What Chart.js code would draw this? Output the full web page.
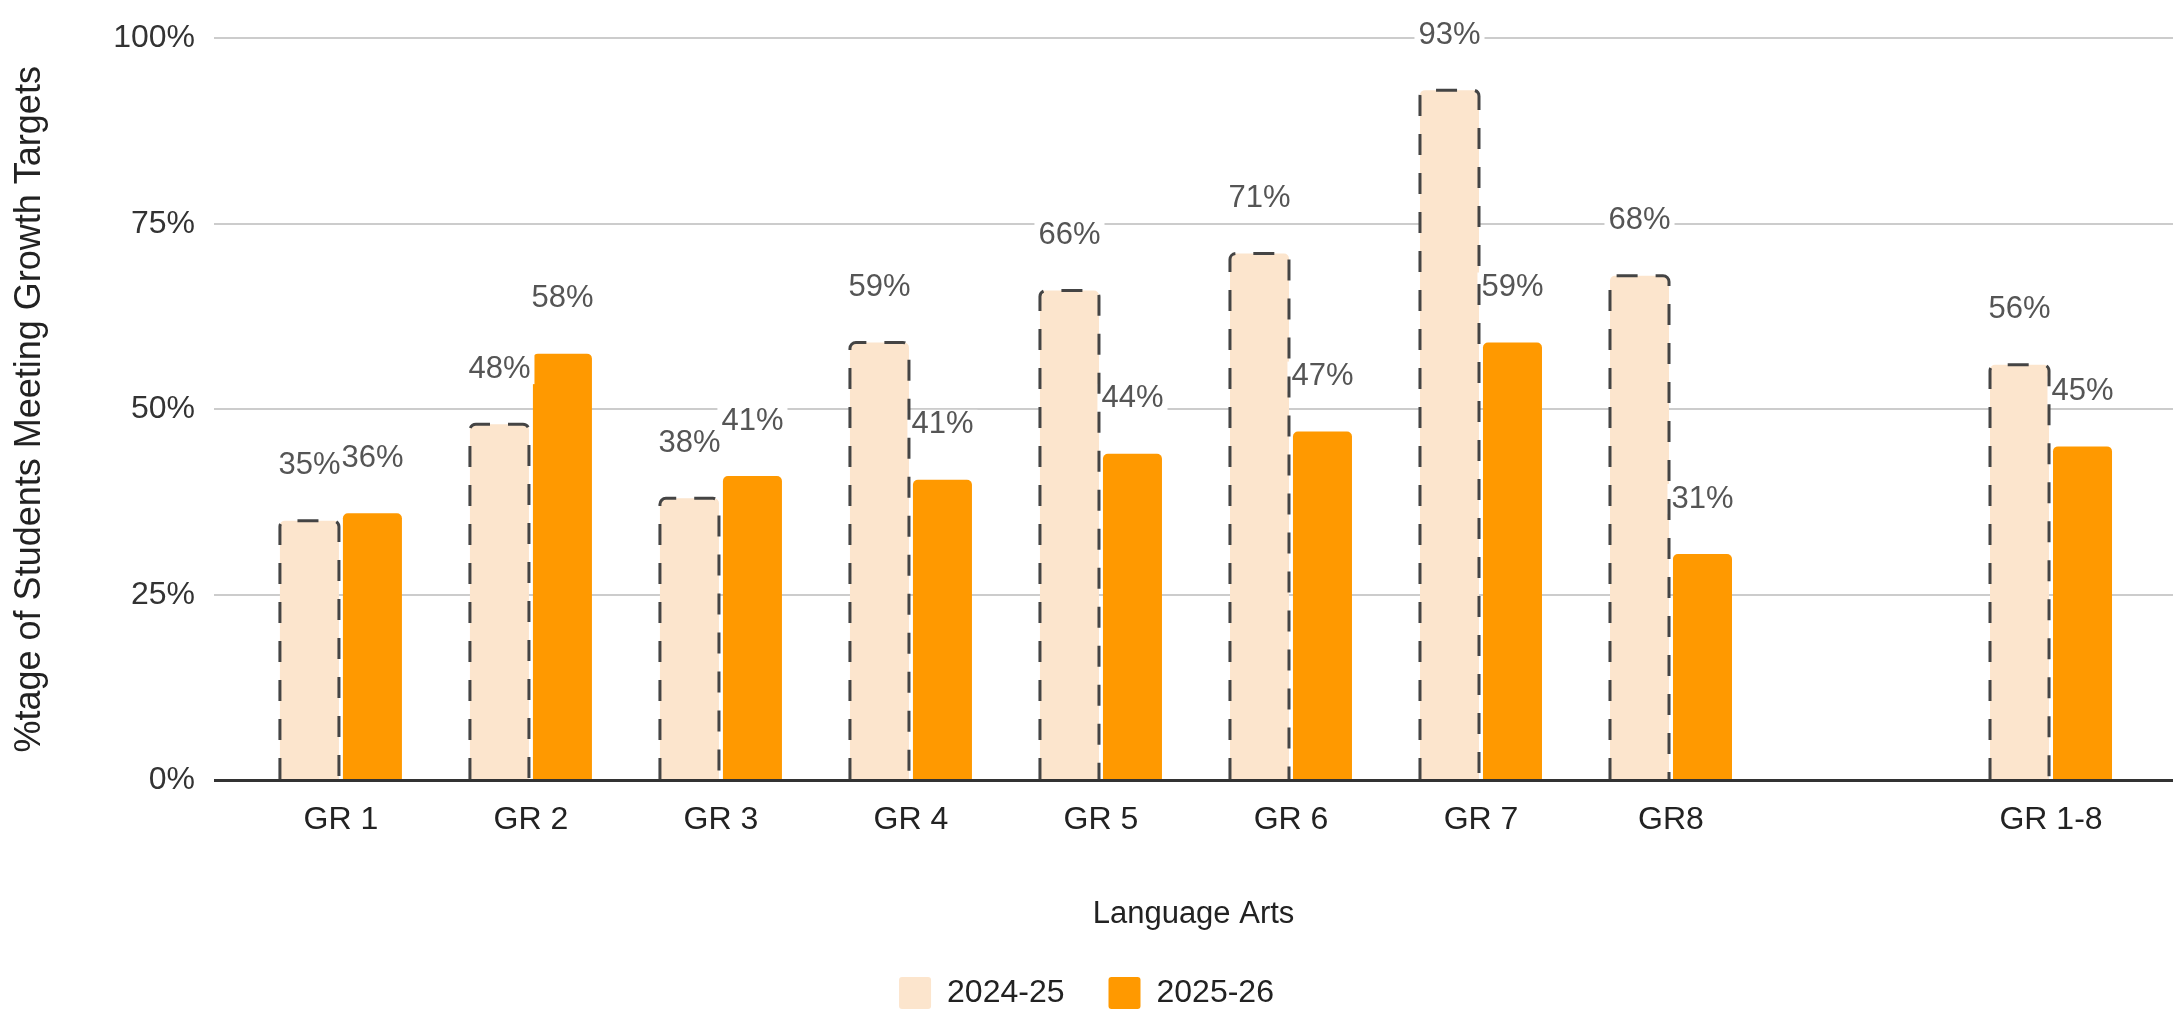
<!DOCTYPE html>
<html>
<head>
<meta charset="utf-8">
<script src="https://cdn.jsdelivr.net/npm/chart.js@4.4.1/dist/chart.umd.min.js"></script>
<style>
  html, body { margin: 0; padding: 0; background: #fff; overflow: hidden; }
  #wrap { position: relative; width: 2173px; height: 1019px; }
</style>
</head>
<body>
<div id="wrap"><canvas id="chartCanvas"></canvas></div>
<script>
// Categories ('' = empty slot before the total)
const gradeLabels = ["GR 1", "GR 2", "GR 3", "GR 4", "GR 5", "GR 6", "GR 7", "GR8", "", "GR 1-8"];

// % of students meeting growth targets
const values2425 = [35, 48, 38, 59, 66, 71, 93, 68, null, 56];
const values2526 = [36, 57.5, 41, 40.5, 44, 47, 59, 30.5, null, 45];

const yTicks = [0, 25, 50, 75, 100];

const FONT = "'Liberation Sans', Arial, sans-serif";
Chart.defaults.font.family = FONT;

function toPoints(values) {
    return values
        .map((v, i) => (v === null ? null : { x: i, y: v }))
        .filter(p => p !== null);
}

// Value labels above bars + dashed outline for the 2024-25 bars
const barExtras = {
    id: "barExtras",
    afterDatasetsDraw(chart) {
        const ctx = chart.ctx;
        ctx.save();
        ctx.font = "31px " + FONT;
        ctx.textAlign = "center";
        ctx.textBaseline = "middle";

        const labels = [];
        chart.data.datasets.forEach((ds, di) => {
            chart.getDatasetMeta(di).data.forEach((bar, i) => {
                const text = Math.round(ds.data[i].y) + "%";
                labels.push({ text, x: bar.x, y: bar.y - 55, w: ctx.measureText(text).width });
            });
        });
        // backgrounds first so neighbouring labels don't clip each other
        ctx.fillStyle = "#ffffff";
        labels.forEach(l => ctx.fillRect(l.x - l.w / 2 - 4, l.y - 15, l.w + 8, 30));
        ctx.fillStyle = "#555555";
        labels.forEach(l => ctx.fillText(l.text, l.x, l.y));

        const meta0 = chart.getDatasetMeta(0);
        ctx.strokeStyle = "#444444";
        ctx.lineWidth = 3;
        ctx.setLineDash([21, 18]);
        meta0.data.forEach(bar => {
            const left = bar.x - bar.width / 2;
            const right = bar.x + bar.width / 2;
            const top = bar.y;
            const bottom = bar.base;
            const r = 6;
            ctx.beginPath();
            ctx.moveTo(left, bottom);
            ctx.lineTo(left, top + r);
            ctx.arcTo(left, top, left + r, top, r);
            ctx.lineTo(right - r, top);
            ctx.arcTo(right, top, right, top + r, r);
            ctx.lineTo(right, bottom);
            ctx.stroke();
        });
        ctx.restore();
    }
};

const ctx = document.getElementById("chartCanvas").getContext("2d");

new Chart(ctx, {
    type: "bar",
    data: {
        datasets: [
            {
                label: "2024-25",
                data: toPoints(values2425),
                backgroundColor: "#fce5cd",
                borderWidth: 0,
                borderRadius: { topLeft: 5, topRight: 5, bottomLeft: 0, bottomRight: 0 },
                categoryPercentage: 0.663,
                barPercentage: 0.937
            },
            {
                label: "2025-26",
                data: toPoints(values2526),
                backgroundColor: "#ff9900",
                borderWidth: 0,
                borderRadius: { topLeft: 5, topRight: 5, bottomLeft: 0, bottomRight: 0 },
                categoryPercentage: 0.663,
                barPercentage: 0.937
            }
        ]
    },
    options: {
        responsive: true,
        maintainAspectRatio: false,
        animation: false,
        layout: { padding: { top: 25, left: 0, right: 0, bottom: 0 } },
        plugins: {
            tooltip: { enabled: false },
            legend: {
                position: "bottom",
                labels: {
                    font: { size: 32 },
                    color: "#222222",
                    boxWidth: 32,
                    boxHeight: 32,
                    padding: 44,
                    useBorderRadius: true,
                    borderRadius: 3
                }
            }
        },
        scales: {
            x: {
                type: "linear",
                offset: false,
                min: -0.668,
                max: 9.642,
                grid: { display: false },
                border: { display: false },
                afterBuildTicks(scale) {
                    scale.ticks = gradeLabels
                        .map((l, i) => ({ value: i }))
                        .filter(t => gradeLabels[t.value] !== "");
                },
                ticks: {
                    autoSkip: false,
                    maxRotation: 0,
                    padding: 13,
                    font: { size: 32 },
                    color: "#222222",
                    callback: v => gradeLabels[v]
                },
                title: {
                    display: true,
                    text: "Language Arts",
                    font: { size: 31 },
                    color: "#222222",
                    padding: { top: 43, bottom: 0 }
                }
            },
            y: {
                min: 0,
                max: 100,
                afterBuildTicks(scale) {
                    scale.ticks = yTicks.map(v => ({ value: v }));
                },
                afterFit(scale) {
                    scale.width = 214;
                },
                grid: {
                    drawTicks: false,
                    color: c => (c.tick && c.tick.value === 0 ? "#333333" : "#cccccc"),
                    lineWidth: c => (c.tick && c.tick.value === 0 ? 3 : 2)
                },
                border: { display: false },
                ticks: {
                    padding: 19,
                    font: { size: 32 },
                    color: "#333333",
                    callback: v => v + "%"
                },
                title: {
                    display: true,
                    text: "%tage of Students Meeting Growth Targets",
                    font: { size: 36 },
                    color: "#222222",
                    padding: { top: 8, bottom: 0 }
                }
            }
        }
    },
    plugins: [barExtras]
});
</script>
</body>
</html>
